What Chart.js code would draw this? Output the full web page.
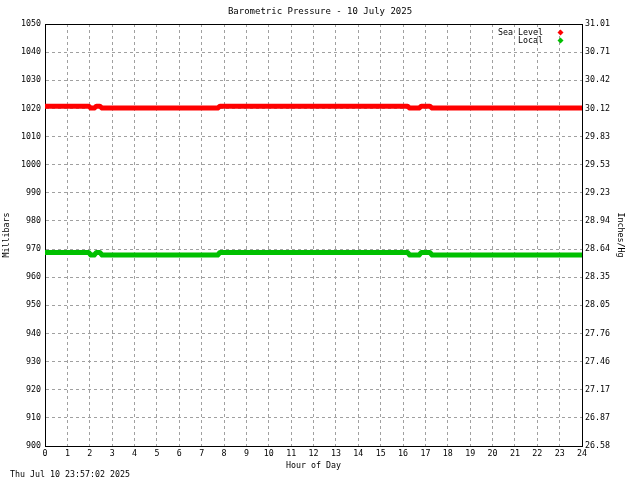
<!DOCTYPE html>
<html>
<head>
<meta charset="utf-8">
<script src="https://cdn.jsdelivr.net/npm/chart.js@4/dist/chart.umd.min.js"></script>
<style>
html,body{margin:0;padding:0;background:#fff;}
#wrap{width:640px;height:480px;position:relative;}
</style>
</head>
<body>
<div id="wrap"><canvas id="c" width="640" height="480"></canvas></div>
<script>
// ---- data ----
const titleText = "Barometric Pressure - 10 July 2025";
const stampText = "Thu Jul 10 23:57:02 2025";
const xTitle = "Hour of Day";
const yLeftTitle = "Millibars";
const yRightTitle = "Inches/Hg";
const seriesNames = ["Sea Level", "Local"];
const hours = [0, 1.95, 2.05, 2.2, 2.3, 2.45, 2.55, 7.72, 7.82, 16.2, 16.3, 16.72, 16.82, 17.2, 17.3, 24];
const seaLevel = [1020.8, 1020.8, 1020.1, 1020.1, 1020.8, 1020.8, 1020.1, 1020.1, 1020.8, 1020.8, 1020.1, 1020.1, 1020.8, 1020.8, 1020.1, 1020.1];
const local = [968.8, 968.8, 967.9, 967.9, 968.8, 968.8, 967.9, 967.9, 968.8, 968.8, 967.9, 967.9, 968.8, 968.8, 967.9, 967.9];
const mbTicks = [900, 910, 920, 930, 940, 950, 960, 970, 980, 990, 1000, 1010, 1020, 1030, 1040, 1050];
const mbLabels = ["900", "910", "920", "930", "940", "950", "960", "970", "980", "990", "1000", "1010", "1020", "1030", "1040", "1050"];
const inHgLabels = ["26.58", "26.87", "27.17", "27.46", "27.76", "28.05", "28.35", "28.64", "28.94", "29.23", "29.53", "29.83", "30.12", "30.42", "30.71", "31.01"];

const FONT = "'DejaVu Sans Mono', monospace";
const seaColor = "#ff0000";
const localColor = "#00c000";

function toXY(xs, ys){ return xs.map((x,i)=>({x:x, y:ys[i]})); }

const decor = {
  id: 'decor',
  afterDraw(chart){
    const ctx = chart.ctx, a = chart.chartArea;
    ctx.save();
    // top frame line
    ctx.strokeStyle = '#000'; ctx.lineWidth = 1;
    ctx.beginPath(); ctx.moveTo(a.left, a.top + 0.5); ctx.lineTo(a.right, a.top + 0.5); ctx.stroke();
    ctx.fillStyle = '#000';
    ctx.textBaseline = 'middle';
    // title
    ctx.font = "9px " + FONT; ctx.textAlign = 'center';
    ctx.fillText(titleText, 320, 12);
    ctx.font = "8.3px " + FONT;
    // x title
    ctx.fillText(xTitle, (a.left + a.right)/2, 465.5);
    // timestamp
    ctx.textAlign = 'left';
    ctx.fillText(stampText, 10, 474.5);
    // left title
    ctx.save(); ctx.translate(7, (a.top + a.bottom)/2); ctx.rotate(-Math.PI/2);
    ctx.textAlign = 'center'; ctx.fillText(yLeftTitle, 0, 0); ctx.restore();
    // right title
    ctx.save(); ctx.translate(620, (a.top + a.bottom)/2); ctx.rotate(Math.PI/2);
    ctx.textAlign = 'center'; ctx.fillText(yRightTitle, 0, 0); ctx.restore();
    // legend
    const colors = [seaColor, localColor];
    seriesNames.forEach((n, i) => {
      const y = 32.5 + i*8;
      ctx.fillStyle = '#000'; ctx.textAlign = 'right';
      ctx.fillText(n, 543, y);
      ctx.fillStyle = colors[i];
      ctx.beginPath();
      ctx.moveTo(560.5, y - 3); ctx.lineTo(563.5, y); ctx.lineTo(560.5, y + 3); ctx.lineTo(557.5, y);
      ctx.closePath(); ctx.fill();
    });
    ctx.restore();
  }
};

new Chart(document.getElementById('c'), {
  type: 'line',
  data: {
    datasets: [
      { label: seriesNames[0], data: toXY(hours, seaLevel), borderColor: seaColor, backgroundColor: seaColor,
        borderWidth: 5, pointRadius: 0, tension: 0, borderJoinStyle: 'round', borderCapStyle: 'butt', yAxisID: 'y' },
      { label: seriesNames[1], data: toXY(hours, local), borderColor: localColor, backgroundColor: localColor,
        borderWidth: 5, pointRadius: 0, tension: 0, borderJoinStyle: 'round', borderCapStyle: 'butt', yAxisID: 'y' }
    ]
  },
  options: {
    responsive: false,
    animation: false,
    devicePixelRatio: 1,
    layout: { padding: { top: 24, bottom: 0, left: 0, right: 0 } },
    plugins: { legend: { display: false }, title: { display: false }, tooltip: { enabled: false } },
    scales: {
      x: {
        type: 'linear', min: 0, max: 24,
        afterFit(s){ s.height = 34; },
        ticks: { stepSize: 1, color: '#000', font: { family: FONT, size: 8.3 }, padding: 3, maxRotation: 0, autoSkip: false },
        grid: { color: '#a0a0a0', drawTicks: false, lineWidth: 1 },
        border: { display: true, color: '#000', width: 1, dash: [3, 3] }
      },
      y: {
        type: 'linear', position: 'left', min: 900, max: 1050,
        afterFit(s){ s.width = 45; },
        afterBuildTicks(s){ s.ticks = mbTicks.map(v => ({ value: v })); },
        ticks: { color: '#000', font: { family: FONT, size: 8.3 }, padding: 4,
          callback(v){ const i = mbTicks.indexOf(v); return i >= 0 ? mbLabels[i] : ''; } },
        grid: { color: '#a0a0a0', drawTicks: false, lineWidth: 1 },
        border: { display: true, color: '#000', width: 1, dash: [3, 3] }
      },
      y2: {
        type: 'linear', position: 'right', min: 900, max: 1050,
        afterFit(s){ s.width = 58; },
        afterBuildTicks(s){ s.ticks = mbTicks.map(v => ({ value: v })); },
        ticks: { color: '#000', font: { family: FONT, size: 8.3 }, padding: 3,
          callback(v){ const i = mbTicks.indexOf(v); return i >= 0 ? inHgLabels[i] : ''; } },
        grid: { drawOnChartArea: false, drawTicks: false },
        border: { display: true, color: '#000', width: 1 }
      }
    }
  },
  plugins: [decor]
});
</script>
</body>
</html>
